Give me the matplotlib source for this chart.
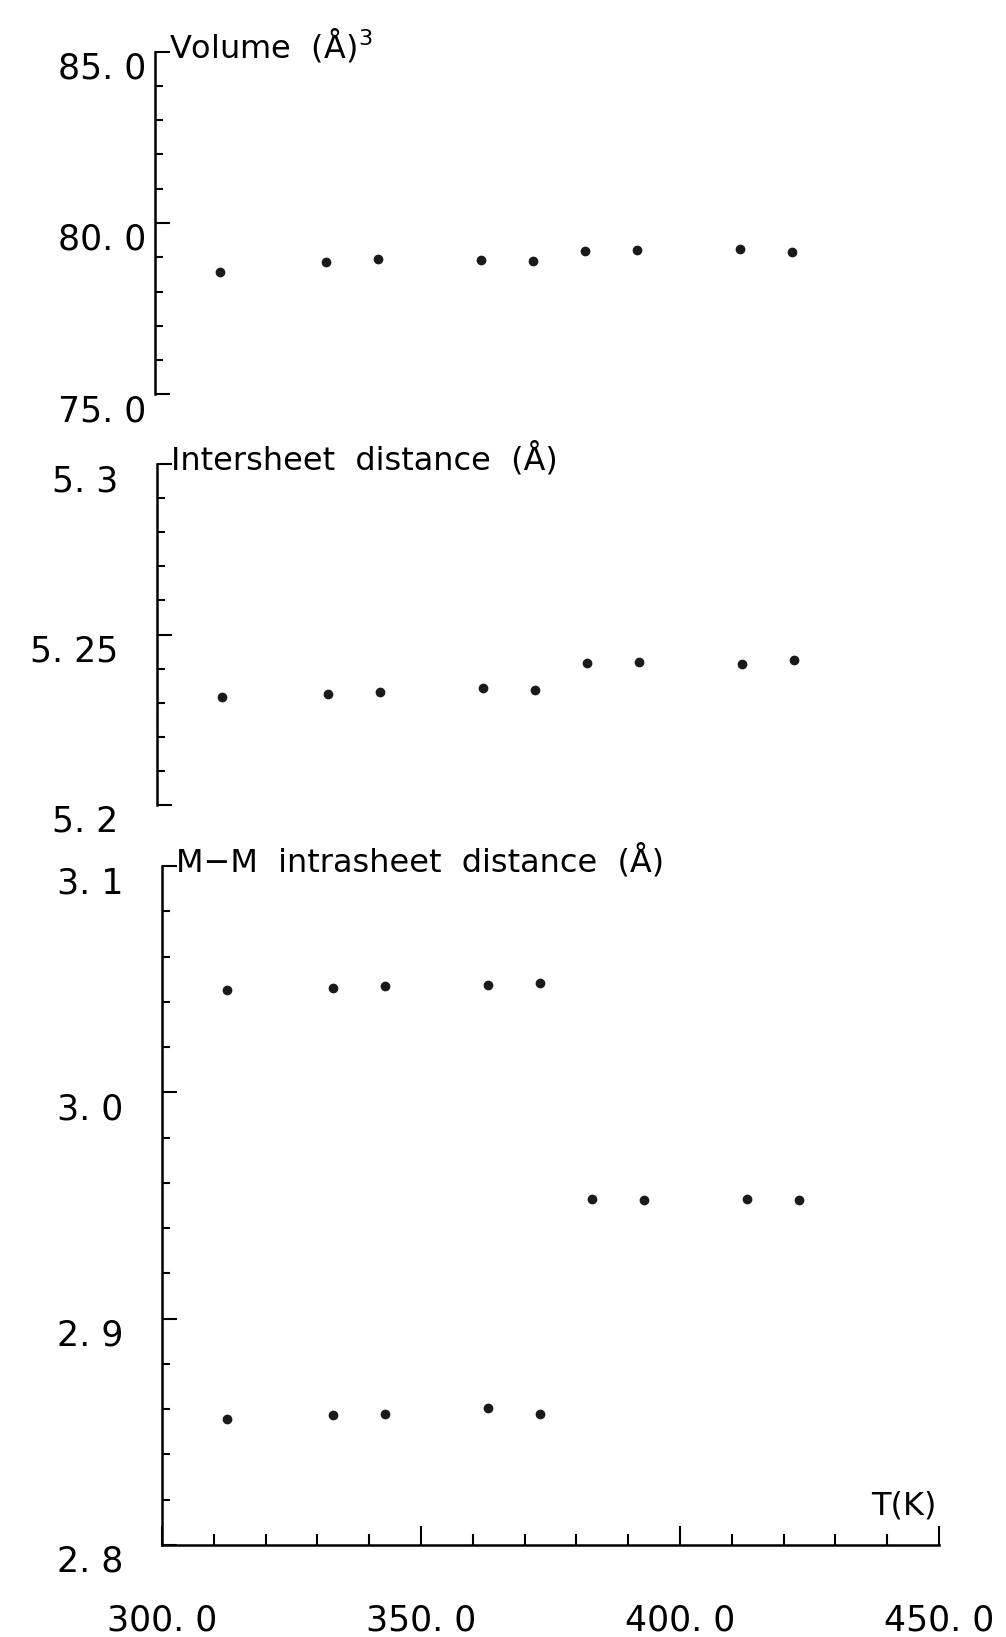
import matplotlib
matplotlib.use('Agg')
import matplotlib.pyplot as plt
import numpy as np

# ---------------- data ----------------
temperature = [312.5, 333.0, 343.0, 363.0, 373.0, 383.0, 393.0, 413.0, 423.0]
volume = [78.57, 78.86, 78.96, 78.93, 78.90, 79.17, 79.22, 79.24, 79.14]
intersheet = [5.2317, 5.2325, 5.2330, 5.2344, 5.2337, 5.2416, 5.2419, 5.2414, 5.2426]

mm_T_low = [312.5, 333.0, 343.0, 363.0, 373.0]
mm_upper = [3.0453, 3.0461, 3.0468, 3.0475, 3.0482]
mm_lower = [2.8558, 2.8575, 2.8579, 2.8606, 2.8579]
mm_T_high = [383.0, 393.0, 413.0, 423.0]
mm_high = [2.9530, 2.9526, 2.9530, 2.9526]

vol_ticks = [75.0, 80.0, 85.0]
vol_labels = ["75. 0", "80. 0", "85. 0"]
inter_ticks = [5.2, 5.25, 5.3]
inter_labels = ["5. 2", "5. 25", "5. 3"]
mm_ticks = [2.8, 2.9, 3.0, 3.1]
mm_labels = ["2. 8", "2. 9", "3. 0", "3. 1"]
x_ticks = [300.0, 350.0, 400.0, 450.0]
x_labels = ["300. 0", "350. 0", "400. 0", "450. 0"]

titles = [r"Volume  (Å)$^{3}$", "Intersheet  distance  (Å)", "M−M  intrasheet  distance  (Å)"]

W, H = 1006, 1637
fig = plt.figure(figsize=(W / 100, H / 100), dpi=100)

def frac(left_px, top_px, bottom_px, width_px=777):
    return [left_px / W, 1 - bottom_px / H, width_px / W, (bottom_px - top_px) / H]

ax1 = fig.add_axes(frac(155, 51.7, 394.3))
ax2 = fig.add_axes(frac(157, 464, 805))
ax3 = fig.add_axes(frac(162, 866, 1545))

TICKFONT = dict(family='DejaVu Sans', size=25)
TITLEFONT = dict(family='DejaVu Sans', size=23)
LW = 1.8

def style(ax, ylim, majors, labels, minor_step, pad, show_x=False):
    ax.set_xlim(300, 450)
    ax.set_ylim(*ylim)
    for s in ['top', 'right']:
        ax.spines[s].set_visible(False)
    ax.spines['left'].set_linewidth(LW)
    if show_x:
        ax.spines['bottom'].set_linewidth(LW)
    else:
        ax.spines['bottom'].set_visible(False)
        ax.set_xticks([])
    ax.set_yticks(majors, labels=labels, va='top', **TICKFONT)
    ax.set_yticks(np.arange(ylim[0], ylim[1] + minor_step / 2, minor_step), minor=True)
    ax.tick_params(axis='y', which='major', direction='in', length=11, width=1.5, pad=pad)
    ax.tick_params(axis='y', which='minor', direction='in', length=6, width=1.5)
    ax.patch.set_visible(False)

style(ax1, (75, 85), vol_ticks, vol_labels, 1.0, 6.5)
style(ax2, (5.2, 5.3), inter_ticks, inter_labels, 0.01, 28)
style(ax3, (2.8, 3.1), mm_ticks, mm_labels, 0.02, 28, show_x=True)

ax3.set_xticks(x_ticks, labels=x_labels, **TICKFONT)
ax3.set_xticks(np.arange(300, 451, 10), minor=True)
ax3.tick_params(axis='x', which='major', direction='in', length=14, width=1.5, pad=42)
ax3.tick_params(axis='x', which='minor', direction='in', length=8, width=1.5)

ms = 6
ax1.plot(temperature, volume, 'o', color='#1a1a1a', ms=ms, clip_on=False)
ax2.plot(temperature, intersheet, 'o', color='#1a1a1a', ms=ms, clip_on=False)
ax3.plot(mm_T_low, mm_upper, 'o', color='#1a1a1a', ms=ms, clip_on=False)
ax3.plot(mm_T_low, mm_lower, 'o', color='#1a1a1a', ms=ms, clip_on=False)
ax3.plot(mm_T_high, mm_high, 'o', color='#1a1a1a', ms=ms, clip_on=False)

for ax, t in zip([ax1, ax2, ax3], titles):
    ax.annotate(t, xy=(0, 1), xycoords='axes fraction', xytext=(10, -4),
                textcoords='offset points', ha='left', va='baseline', **TITLEFONT)

ax3.annotate("T(K)", xy=(1, 0), xycoords='axes fraction', xytext=(-2, 22),
             textcoords='offset points', ha='right', va='baseline', **TITLEFONT)

fig.savefig('out.png', dpi=100, facecolor='white')
